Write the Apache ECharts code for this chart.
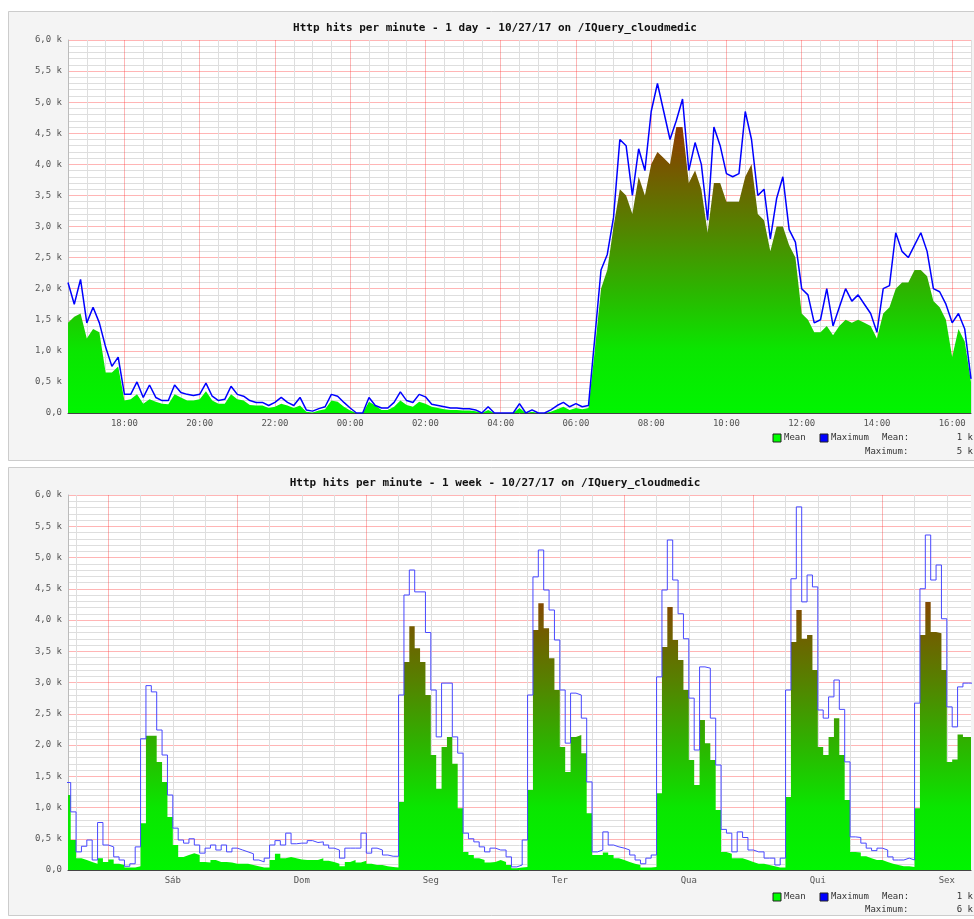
<!DOCTYPE html>
<html>
<head>
<meta charset="utf-8">
<style>
  html, body { margin: 0; padding: 0; background: #fff; }
  #main { width: 974px; height: 919px; }
</style>
</head>
<body>
<div id="main"></div>
<script src="https://cdn.jsdelivr.net/npm/echarts@6/dist/echarts.min.js"></script>
<script>
// 1 day: one value every 10 minutes, 16:30 (10/26) -> 16:30 (10/27)
var dayMean = [
  1450, 1550, 1600, 1200, 1350, 1300, 650, 650, 750, 200,
  220, 300, 150, 220, 180, 150, 140, 300, 250, 200,
  200, 220, 350, 200, 150, 150, 300, 220, 200, 130,
  120, 120, 80, 100, 150, 120, 80, 120, 20, 10,
  40, 60, 200, 180, 100, 40, 0, 0, 180, 120,
  50, 50, 100, 200, 130, 100, 180, 150, 100, 80,
  60, 50, 50, 40, 40, 30, 0, 50, 0, 0,
  0, 0, 80, 0, 20, 0, 0, 20, 60, 100,
  50, 80, 60, 80, 1000, 2000, 2300, 3000, 3600, 3500,
  3200, 3800, 3500, 4000, 4200, 4100, 4000, 4600, 4600, 3700,
  3900, 3600, 2900, 3700, 3700, 3400, 3400, 3400, 3800, 4000,
  3200, 3100, 2600, 3000, 3000, 2700, 2500, 1600, 1500, 1300,
  1300, 1400, 1250, 1400, 1500, 1450, 1500, 1450, 1400, 1200,
  1600, 1700, 2000, 2100, 2100, 2300, 2300, 2200, 1800, 1700,
  1500, 900, 1350, 1150, 500
];
var dayMax = [
  2100, 1750, 2150, 1450, 1700, 1450, 1060, 750, 900, 300,
  300, 500, 250, 450, 250, 200, 200, 450, 330, 300,
  280, 300, 480, 270, 200, 220, 430, 300, 270, 200,
  170, 170, 120, 170, 250, 170, 120, 250, 50, 30,
  70, 100, 300, 270, 170, 80, 0, 0, 250, 120,
  80, 80, 170, 340, 200, 170, 300, 260, 140, 120,
  100, 80, 80, 70, 70, 50, 0, 100, 0, 0,
  0, 0, 150, 0, 50, 0, 0, 50, 120, 170,
  100, 150, 100, 120, 1200, 2300, 2550, 3150, 4400, 4300,
  3500, 4250, 3900, 4850, 5300, 4850, 4400, 4700, 5050, 3900,
  4350, 4000, 3100, 4600, 4300, 3850, 3800, 3850, 4850, 4400,
  3500, 3600, 2800, 3450, 3800, 2950, 2750, 2000, 1900, 1450,
  1500, 2000, 1400, 1700, 2000, 1800, 1900, 1750, 1600, 1300,
  2000, 2050, 2900, 2600, 2500, 2700, 2900, 2600, 2000, 1950,
  1750, 1450, 1600, 1350, 550
];

// 1 week: one value per hour, Fri 16:00 -> Fri 16:00 (hour 16 = Fri 20/10 16:00)
var weekMean = [
  1200, 480, 190, 160, 130, 100, 190, 130,
  170, 100, 80, 40, 40, 60, 750, 2150, 2150, 1730, 1410, 850, 400, 210, 240, 270, 240, 130, 120, 160, 130, 130, 120, 100,
  100, 100, 80, 60, 40, 40, 160, 260, 190, 210, 190, 170, 160, 160, 160, 190, 150, 130, 100, 60, 130, 160, 120, 150,
  100, 80, 80, 60, 50, 40, 1090, 3330, 3900, 3550, 3330, 2800, 1840, 1300, 1970, 2130, 1700, 990, 290, 240, 190, 160, 120, 130,
  160, 130, 80, 30, 40, 50, 1280, 3840, 4270, 3870, 3390, 2880, 1970, 1570, 2130, 2160, 1870, 910, 240, 240, 280, 240, 190, 160,
  130, 100, 80, 40, 40, 50, 1230, 3570, 4210, 3680, 3360, 2880, 1760, 1360, 2400, 2030, 1760, 960, 290, 260, 190, 190, 160, 130,
  100, 100, 80, 60, 40, 40, 1170, 3650, 4160, 3700, 3760, 3200, 1970, 1840, 2130, 2430, 1840, 1120, 290, 280, 220, 190, 160, 160,
  130, 100, 80, 60, 60, 50, 990, 3760, 4290, 3810, 3790, 3200, 1730, 1770, 2170, 2130, 2130
];
var weekMax = [
  1400, 930, 290, 380, 480, 160, 760, 400,
  370, 210, 160, 60, 100, 370, 2100, 2950, 2850, 2240, 1840, 1200, 670, 480, 430, 500, 400, 270, 350, 400, 320, 400, 290, 350,
  320, 290, 260, 160, 130, 190, 400, 470, 400, 590, 420, 430, 430, 470, 440, 450, 400, 350, 320, 190, 350, 350, 350, 590,
  270, 350, 320, 240, 220, 220, 2800, 4400, 4800, 4450, 4450, 3800, 2880, 2130, 2990, 2990, 2130, 1870, 590, 500, 450, 370, 290, 350,
  320, 320, 210, 50, 80, 480, 2800, 4690, 5120, 4480, 4160, 3680, 2880, 2030, 2830, 2800, 2430, 1410, 290, 320, 610, 400, 370, 350,
  320, 240, 160, 100, 190, 240, 3090, 4480, 5280, 4640, 4100, 3700, 2750, 1920, 3250, 3230, 2430, 1680, 650, 590, 290, 610, 520, 320,
  290, 290, 190, 190, 80, 190, 2880, 4660, 5810, 4290, 4720, 4530, 2560, 2430, 2770, 3040, 2570, 1730, 530, 520, 430, 350, 310, 350,
  320, 210, 160, 160, 190, 160, 2670, 4500, 5360, 4640, 4880, 4020, 2610, 2290, 2930, 2990, 2990
];
var weekDays = ['Sáb', 'Dom', 'Seg', 'Ter', 'Qua', 'Qui', 'Sex'];

var dayTitle = 'Http hits per minute - 1 day - 10/27/17 on /IQuery_cloudmedic';
var weekTitle = 'Http hits per minute - 1 week - 10/27/17 on /IQuery_cloudmedic';
var dayStats = ['1 k', '5 k'];
var weekStats = ['1 k', '6 k'];

var dayStart = 990;   // minutes, 16:30
var dayStep = 10;
var weekStart = 16;   // hours

var MONO = '"DejaVu Sans Mono", monospace';
var RED = 'rgba(255, 60, 60, 0.38)';
var GRAY = '#dedede';
var NONE = 'rgba(0,0,0,0)';

// grid geometry
var G1 = { left: 68, top: 40, width: 903, height: 373 };
var G2 = { left: 68, top: 495, width: 903, height: 375 };

var chart = echarts.init(document.getElementById('main'));

function kLabel(v) {
    if (v === 0) return '0,0';
    return (v / 1000).toFixed(1).replace('.', ',') + ' k';
}

function meanFill(g) {
    return new echarts.graphic.LinearGradient(0, g.top, 0, g.top + g.height, [
        { offset: 0, color: '#a02800' },
        { offset: 0.25, color: '#8c4100' },
        { offset: 0.333, color: '#785500' },
        { offset: 0.5, color: '#558200' },
        { offset: 0.667, color: '#2db400' },
        { offset: 0.833, color: '#0ae600' },
        { offset: 1, color: '#00f500' }
    ], true);
}

// vertical grid colours, one per tick
var dayLineColors = [];
for (var j = 0; j < 4; j++) {
    dayLineColors.push((dayStart + 30 * j) % 120 === 0 ? RED : GRAY);
}
var weekLineColors = [];
for (var j = 0; j < 48; j++) {
    var h = 16.5 + 0.5 * j;
    weekLineColors.push(h % 24 === 0 ? RED : (h % 6 === 0 ? GRAY : NONE));
}

function dayData(arr) {
    return arr.map(function (v, i) { return [dayStart + dayStep * i, v]; });
}
function weekData(arr) {
    var d = arr.map(function (v, k) { return [weekStart + k, v]; });
    d.push([weekStart + arr.length, arr[arr.length - 1]]);
    return d;
}

function yAxisFor(gridIndex) {
    return {
        type: 'value', gridIndex: gridIndex, min: 0, max: 6000, interval: 500,
        axisLine: { show: true, lineStyle: { color: '#bbbbbb' } },
        axisTick: { show: false },
        axisLabel: { formatter: kLabel, color: '#555', fontFamily: MONO, fontSize: 9, margin: 6 },
        splitLine: { show: true, lineStyle: { color: RED, width: 1 } },
        minorTick: { show: false, splitNumber: 5 },
        minorSplitLine: { show: true, lineStyle: { color: GRAY, width: 1 } }
    };
}

function legend(y1, y2, stats) {
    var t = { fill: '#333', font: '9px ' + MONO, verticalAlign: 'middle' };
    function txt(x, y, s, align) {
        return { type: 'text', x: x, y: y, style: Object.assign({ text: s, align: align || 'left' }, t) };
    }
    return [
        { type: 'rect', shape: { x: 773, y: y1 - 4, width: 8, height: 8 }, style: { fill: '#00ff00', stroke: '#222', lineWidth: 1 } },
        txt(784, y1, 'Mean'),
        { type: 'rect', shape: { x: 820, y: y1 - 4, width: 8, height: 8 }, style: { fill: '#0000ff', stroke: '#222', lineWidth: 1 } },
        txt(831, y1, 'Maximum'),
        txt(882, y1, 'Mean:'),
        txt(973, y1, stats[0], 'right'),
        txt(865, y2, 'Maximum:'),
        txt(973, y2, stats[1], 'right')
    ];
}

var graphics = [
    { type: 'rect', shape: { x: 0, y: 0, width: 974, height: 11 }, style: { fill: '#fff' } },
    { type: 'rect', shape: { x: 0, y: 0, width: 8, height: 919 }, style: { fill: '#fff' } },
    { type: 'rect', shape: { x: 0, y: 461, width: 974, height: 6 }, style: { fill: '#fff' } },
    { type: 'rect', shape: { x: 0, y: 916, width: 974, height: 3 }, style: { fill: '#fff' } },
    { type: 'rect', shape: { x: 8.5, y: 11.5, width: 990, height: 449 }, style: { fill: null, stroke: '#cccccc', lineWidth: 1 } },
    { type: 'rect', shape: { x: 8.5, y: 467.5, width: 990, height: 448 }, style: { fill: null, stroke: '#cccccc', lineWidth: 1 } },
    { type: 'text', x: 495, y: 28, style: { text: dayTitle, align: 'center', verticalAlign: 'middle', fill: '#111', font: 'bold 11px ' + MONO } },
    { type: 'text', x: 495, y: 483, style: { text: weekTitle, align: 'center', verticalAlign: 'middle', fill: '#111', font: 'bold 11px ' + MONO } }
].concat(legend(438, 452, dayStats)).concat(legend(897, 910, weekStats));

chart.setOption({
    backgroundColor: '#f4f4f4',
    animation: false,
    grid: [
        Object.assign({ show: true, backgroundColor: '#fff', borderWidth: 0 }, G1),
        Object.assign({ show: true, backgroundColor: '#fff', borderWidth: 0 }, G2)
    ],
    xAxis: [{
        type: 'value', gridIndex: 0, min: dayStart, max: dayStart + 1440, interval: 30,
        axisLine: { show: true, onZero: false, lineStyle: { color: '#444' } },
        axisTick: { show: false },
        axisLabel: {
            color: '#555', fontFamily: MONO, fontSize: 9, margin: 6,
            formatter: function (v) {
                if (v % 120 !== 0) return '';
                var h = Math.floor(v / 60) % 24;
                return (h < 10 ? '0' : '') + h + ':00';
            }
        },
        splitLine: { show: true, lineStyle: { color: dayLineColors, width: 1 } }
    }, {
        type: 'value', gridIndex: 1, min: 16.5, max: 184.5, interval: 0.5,
        axisLine: { show: true, onZero: false, lineStyle: { color: '#444' } },
        axisTick: { show: false },
        axisLabel: {
            color: '#555', fontFamily: MONO, fontSize: 9, margin: 6,
            formatter: function (v) {
                if (v % 24 !== 12) return '';
                return weekDays[Math.floor(v / 24) - 1] || '';
            }
        },
        splitLine: { show: true, lineStyle: { color: weekLineColors, width: 1 } }
    }],
    yAxis: [yAxisFor(0), yAxisFor(1)],
    graphic: graphics,
    series: [{
        name: 'Mean', type: 'line', xAxisIndex: 0, yAxisIndex: 0,
        data: dayData(dayMean), symbol: 'none', z: 2,
        lineStyle: { width: 0 },
        areaStyle: { color: meanFill(G1), opacity: 1 }
    }, {
        name: 'Maximum', type: 'line', xAxisIndex: 0, yAxisIndex: 0,
        data: dayData(dayMax), symbol: 'none', z: 3,
        lineStyle: { color: '#0000ff', width: 1.5 }
    }, {
        name: 'Mean', type: 'line', xAxisIndex: 1, yAxisIndex: 1, step: 'end',
        data: weekData(weekMean), symbol: 'none', z: 2,
        lineStyle: { width: 0 },
        areaStyle: { color: meanFill(G2), opacity: 1 }
    }, {
        name: 'Maximum', type: 'line', xAxisIndex: 1, yAxisIndex: 1, step: 'end',
        data: weekData(weekMax), symbol: 'none', z: 3,
        lineStyle: { color: '#4848ff', width: 1 }
    }]
});
</script>
</body>
</html>
